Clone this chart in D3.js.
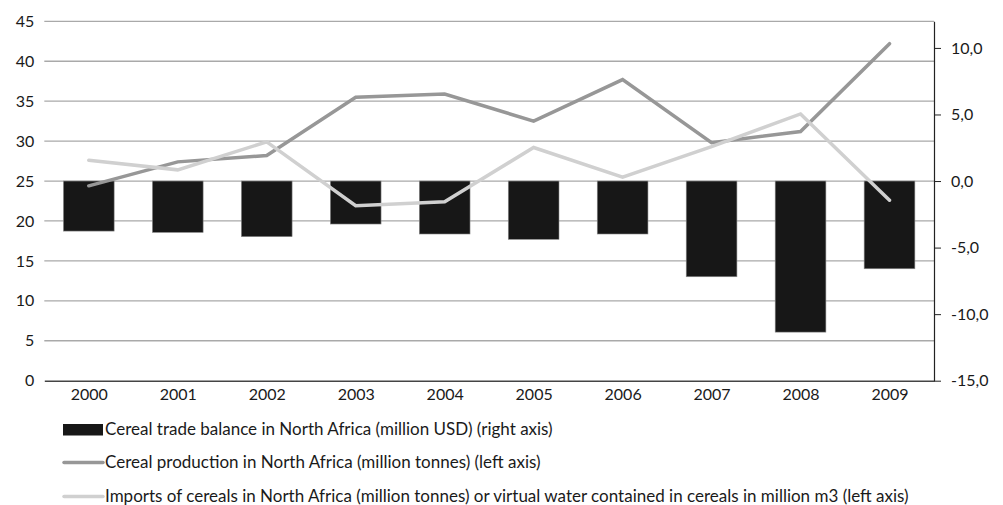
<!DOCTYPE html>
<html>
<head>
<meta charset="utf-8">
<script src="https://cdn.jsdelivr.net/npm/d3@7"></script>
<style>
  body { margin: 0; background: #fff; }
  text { font-family: Lato, "Open Sans", sans-serif; fill: #1a1a1a; }
</style>
</head>
<body>
<div id="chart"></div>
<script>
var years = ["2000", "2001", "2002", "2003", "2004", "2005", "2006", "2007", "2008", "2009"];
// right axis, million USD
var tradeBalance = [-3.76, -3.86, -4.18, -3.23, -3.98, -4.38, -3.98, -7.19, -11.35, -6.59];
// left axis, million tonnes
var production = [24.4, 27.4, 28.2, 35.5, 35.9, 32.5, 37.7, 29.8, 31.2, 42.2];
var imports = [27.6, 26.4, 29.9, 21.9, 22.4, 29.2, 25.5, 29.3, 33.4, 22.6];
var leftTicks = [0, 5, 10, 15, 20, 25, 30, 35, 40, 45];
var rightTicks = [-15, -10, -5, 0, 5, 10];
var legendLabels = [
    "Cereal trade balance in North Africa (million USD) (right axis)",
    "Cereal production in North Africa (million tonnes) (left axis)",
    "Imports of cereals in North Africa (million tonnes) or virtual water contained in cereals in million m3 (left axis)"
];

var width = 1003, height = 505;
var plotLeft = 44.3, plotRight = 934, plotTop = 21.3, plotBottom = 380.7;

var svg = d3.select("#chart").append("svg")
    .attr("width", width)
    .attr("height", height);

var x = d3.scaleBand().domain(years).range([plotLeft, plotRight]).paddingInner(0.43).paddingOuter(0.215);
var xc = d3.scalePoint().domain(years).range([plotLeft, plotRight]).padding(0.5);
var yL = d3.scaleLinear().domain([0, 45]).range([plotBottom, plotTop]);
var yR = d3.scaleLinear().domain([-15, 12]).range([plotBottom, plotTop]);

// gridlines
svg.append("g")
    .selectAll("line")
    .data(leftTicks.slice(1))
    .enter().append("line")
    .attr("x1", plotLeft).attr("x2", plotRight)
    .attr("y1", function (d) { return yL(d); })
    .attr("y2", function (d) { return yL(d); })
    .attr("stroke", "#a9a9a9")
    .attr("stroke-width", 1.3);

// left axis labels
var gl = svg.append("g")
    .attr("transform", "translate(" + plotLeft + ",0)")
    .call(d3.axisLeft(yL).tickValues(leftTicks).tickSize(0).tickPadding(10));
gl.select(".domain").remove();
gl.selectAll("text").style("font-size", "16px").attr("fill", "#1a1a1a");

// bars
svg.append("g")
    .selectAll("rect")
    .data(tradeBalance)
    .enter().append("rect")
    .attr("x", function (d, i) { return x(years[i]); })
    .attr("width", x.bandwidth())
    .attr("y", yR(0))
    .attr("height", function (d) { return yR(d) - yR(0); })
    .attr("fill", "#171717")
    .attr("stroke", "#8a8a8a")
    .attr("stroke-width", 0.6);

// lines
var line = d3.line()
    .x(function (d, i) { return xc(years[i]); })
    .y(function (d) { return yL(d); });

svg.append("path")
    .datum(production)
    .attr("d", line)
    .attr("fill", "none")
    .attr("stroke", "#979797")
    .attr("stroke-width", 3.5)
    .attr("stroke-linecap", "round");

svg.append("path")
    .datum(imports)
    .attr("d", line)
    .attr("fill", "none")
    .attr("stroke", "#d0d0d0")
    .attr("stroke-width", 3.5)
    .attr("stroke-linecap", "round");

// bottom axis
var gx = svg.append("g")
    .attr("transform", "translate(0," + plotBottom + ")")
    .call(d3.axisBottom(xc).tickSize(0).tickPadding(8).tickSizeOuter(0));
gx.select(".domain").attr("stroke", "#444").attr("stroke-width", 1.5);
gx.selectAll("text").style("font-size", "16px").attr("fill", "#1a1a1a");

// right axis
var gr = svg.append("g")
    .attr("transform", "translate(" + plotRight + ",0)")
    .call(d3.axisRight(yR).tickValues(rightTicks).tickSize(7).tickPadding(10)
        .tickSizeOuter(0)
        .tickFormat(function (d) { return d3.format(".1f")(d).replace(".", ",").replace("\u2212", "-"); }));
gr.select(".domain").attr("stroke", "#222").attr("stroke-width", 1.2);
gr.selectAll(".tick line").attr("stroke", "#222");
gr.selectAll("text").style("font-size", "16px").attr("fill", "#1a1a1a");

// legend
var legend = svg.append("g");
var rowY = [429.5, 462.5, 496.5];
legendLabels.forEach(function (label, i) {
    var g = legend.append("g").attr("transform", "translate(63," + rowY[i] + ")");
    if (i === 0) {
        g.append("rect").attr("x", 0).attr("y", -5.5).attr("width", 40).attr("height", 11.5).attr("fill", "#171717");
    } else {
        g.append("line").attr("x1", 1).attr("x2", 40).attr("y1", 0).attr("y2", 0)
            .attr("stroke", i === 1 ? "#979797" : "#d0d0d0")
            .attr("stroke-width", 3.5).attr("stroke-linecap", "round");
    }
    g.append("text").attr("x", 42).attr("dy", "0.35em").style("font-size", "17px").text(label);
});
</script>
</body>
</html>
